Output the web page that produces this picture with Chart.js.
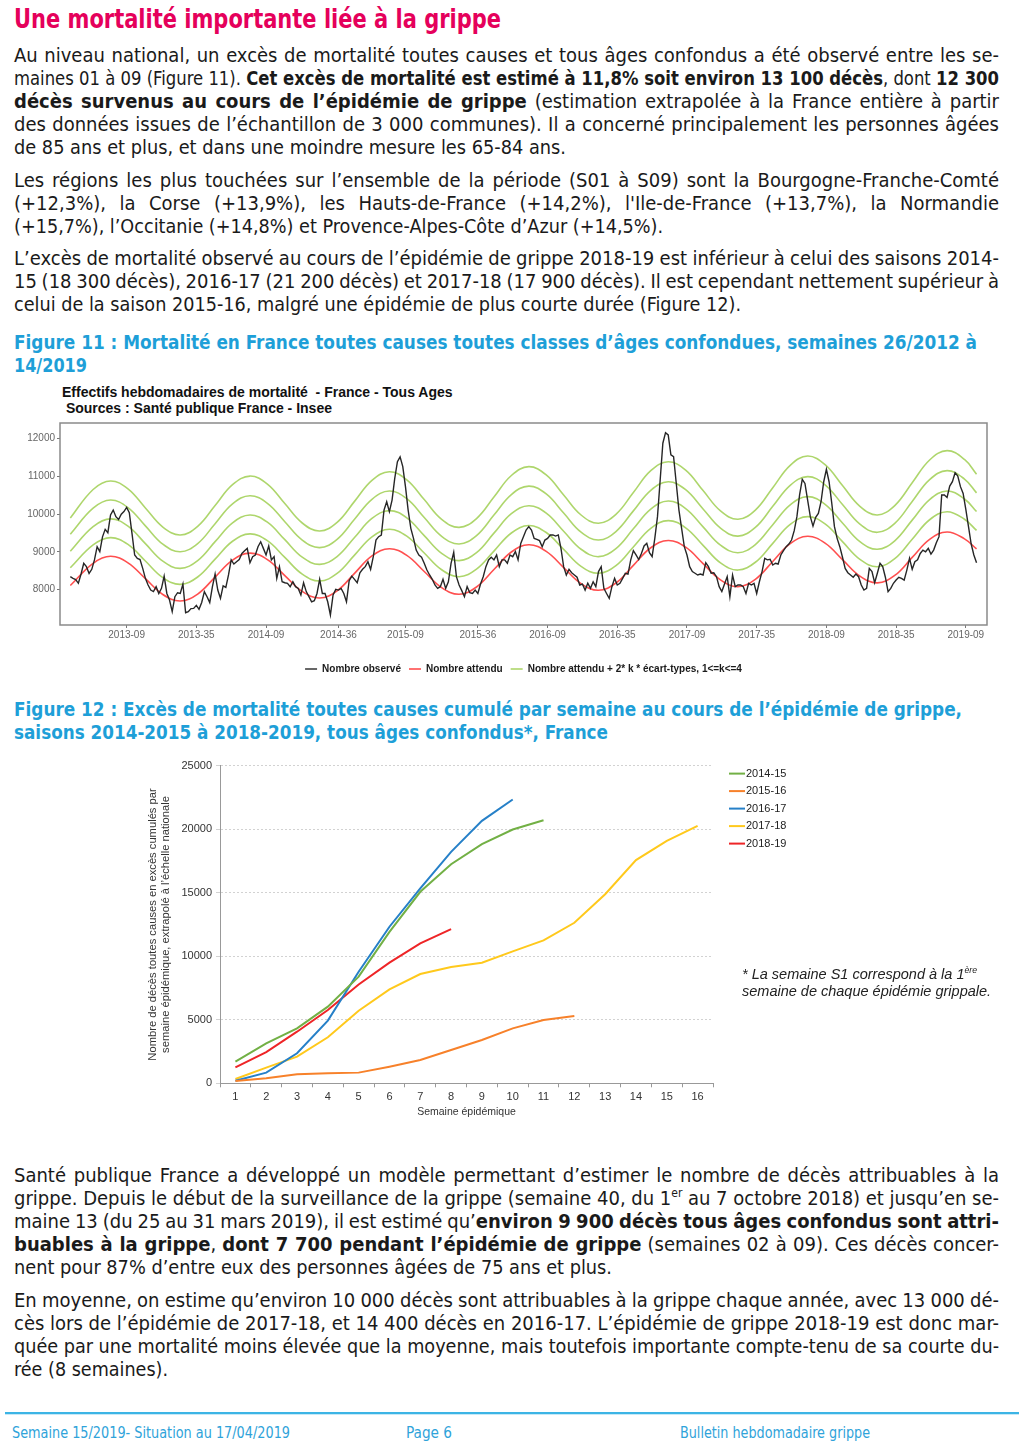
<!DOCTYPE html>
<html lang="fr">
<head>
<meta charset="utf-8">
<title>Bulletin hebdomadaire grippe - page 6</title>
<script src="https://cdn.jsdelivr.net/npm/chart.js@4.4.1/dist/chart.umd.min.js"></script>
<style>
  html, body { margin: 0; padding: 0; background: #fff; }
  body {
    width: 1024px; height: 1452px; position: relative; overflow: hidden;
    font-family: "Liberation Sans Narrow", "Arial Narrow", "DejaVu Sans Condensed", "Liberation Sans", sans-serif;
    color: #1a1a1a;
  }
  .blk { position: absolute; left: 14px; width: 985px; font-size: 20px; line-height: 23px; }
  .ln { white-space: nowrap; }
  .ln > span { display: inline-block; transform-origin: 0 50%; }
  .head { position: absolute; left: 14px; top: 6px; width: 700px; font-size: 26px; line-height: 26px; font-weight: bold; color: #e5005b; }
  .cap { color: #1e9fd8; font-weight: bold; }
  sup { font-size: 0.6em; line-height: 0; vertical-align: 0.65em; }
  .charttitle { position: absolute; left: 62px; top: 384px; font: bold 14px/16px "Liberation Sans", Arial, sans-serif; white-space: pre; color: #111; }
  .note { position: absolute; left: 742px; top: 966px; font: italic 14.5px/17px "Liberation Sans", Arial, sans-serif; color: #222; white-space: nowrap; }
  .rule { position: absolute; left: 5px; right: 5px; top: 1412px; height: 2px; background: #3cb4e5; box-shadow: 0 1px 0 #c6e9f7; }
  .foot { position: absolute; top: 1424px; font-size: 15px; line-height: 18px; color: #2fa3da; white-space: nowrap; }
  canvas { position: absolute; }
</style>
</head>
<body>

<div class="head"><div class="ln" data-w="487"><span>Une mortalité importante liée à la grippe</span></div></div>

<div class="blk" style="top:43.5px">
  <div class="ln j"><span>Au niveau national, un excès de mortalité toutes causes et tous âges confondus a été observé entre les se-</span></div>
  <div class="ln j"><span>maines 01 à 09 (Figure 11). <b>Cet excès de mortalité est estimé à 11,8% soit environ 13 100 décès</b>, dont <b>12 300</b></span></div>
  <div class="ln j"><span><b>décès survenus au cours de l’épidémie de grippe</b> (estimation extrapolée à la France entière à partir</span></div>
  <div class="ln j"><span>des données issues de l’échantillon de 3 000 communes). Il a concerné principalement les personnes âgées</span></div>
  <div class="ln" data-w="552"><span>de 85 ans et plus, et dans une moindre mesure les 65-84 ans.</span></div>
</div>

<div class="blk" style="top:168.5px">
  <div class="ln j"><span>Les régions les plus touchées sur l’ensemble de la période (S01 à S09) sont la Bourgogne-Franche-Comté</span></div>
  <div class="ln j"><span>(+12,3%), la Corse (+13,9%), les Hauts-de-France (+14,2%), l'Ile-de-France (+13,7%), la Normandie</span></div>
  <div class="ln" data-w="649"><span>(+15,7%), l’Occitanie (+14,8%) et Provence-Alpes-Côte d’Azur (+14,5%).</span></div>
</div>

<div class="blk" style="top:246.5px">
  <div class="ln j"><span>L’excès de mortalité observé au cours de l’épidémie de grippe 2018-19 est inférieur à celui des saisons 2014-</span></div>
  <div class="ln j"><span>15 (18 300 décès), 2016-17 (21 200 décès) et 2017-18 (17 900 décès). Il est cependant nettement supérieur à</span></div>
  <div class="ln" data-w="727"><span>celui de la saison 2015-16, malgré une épidémie de plus courte durée (Figure 12).</span></div>
</div>

<div class="blk cap" style="top:330.5px">
  <div class="ln" data-w="963"><span>Figure 11 : Mortalité en France toutes causes toutes classes d’âges confondues, semaines 26/2012 à</span></div>
  <div class="ln" data-w="73"><span>14/2019</span></div>
</div>

<div class="charttitle">Effectifs hebdomadaires de mortalité  - France - Tous Ages
 Sources : Santé publique France - Insee</div>
<canvas id="fig11" width="1024" height="270" style="left:0;top:415px"></canvas>

<div class="blk cap" style="top:697.5px">
  <div class="ln" data-w="948"><span>Figure 12 : Excès de mortalité toutes causes cumulé par semaine au cours de l’épidémie de grippe,</span></div>
  <div class="ln" data-w="594"><span>saisons 2014-2015 à 2018-2019, tous âges confondus*, France</span></div>
</div>

<canvas id="fig12" width="700" height="380" style="left:140px;top:755px"></canvas>
<div class="note">* La semaine S1 correspond à la 1<sup>ère</sup><br>semaine de chaque épidémie grippale.</div>

<div class="blk" style="top:1163.5px">
  <div class="ln j"><span>Santé publique France a développé un modèle permettant d’estimer le nombre de décès attribuables à la</span></div>
  <div class="ln j"><span>grippe. Depuis le début de la surveillance de la grippe (semaine 40, du 1<sup>er</sup> au 7 octobre 2018) et jusqu’en se-</span></div>
  <div class="ln j"><span>maine 13 (du 25 au 31 mars 2019), il est estimé qu’<b>environ 9 900 décès tous âges confondus sont attri-</b></span></div>
  <div class="ln j"><span><b>buables à la grippe</b>, <b>dont 7 700 pendant l’épidémie de grippe</b> (semaines 02 à 09). Ces décès concer-</span></div>
  <div class="ln" data-w="598"><span>nent pour 87% d’entre eux des personnes âgées de 75 ans et plus.</span></div>
</div>

<div class="blk" style="top:1288.5px">
  <div class="ln j"><span>En moyenne, on estime qu’environ 10 000 décès sont attribuables à la grippe chaque année, avec 13 000 dé-</span></div>
  <div class="ln j"><span>cès lors de l’épidémie de 2017-18, et 14 400 décès en 2016-17. L’épidémie de grippe 2018-19 est donc mar-</span></div>
  <div class="ln j"><span>quée par une mortalité moins élevée que la moyenne, mais toutefois importante compte-tenu de sa courte du-</span></div>
  <div class="ln" data-w="154"><span>rée (8 semaines).</span></div>
</div>

<div class="rule"></div>
<div class="foot" style="left:12px"><div class="ln" data-w="278"><span>Semaine 15/2019- Situation au 17/04/2019</span></div></div>
<div class="foot" style="left:406px"><div class="ln" data-w="46"><span>Page 6</span></div></div>
<div class="foot" style="left:680px"><div class="ln" data-w="190"><span>Bulletin hebdomadaire grippe</span></div></div>

<script>
// ---- Figure 11 : semaine 0 = 2013-S01, la série commence en 2012-S40 ----
const obsStartWeek = -13;
const observed = [
  8345, 8300, 8270, 8170, 8415, 8700, 8610, 8430, 8540, 8790, 9140, 9010, 9400,
  9600, 9510, 9980, 10110, 9935, 9860, 10000, 10070, 10180, 10040, 9490, 8920, 8830,
  8800, 8565, 8300, 8125, 7990, 7950, 8080, 7900, 8035, 8360, 7900, 7725, 7420,
  7815, 7920, 7900, 8150, 7390, 7420, 7500, 7505, 7585, 7480, 7660, 7950, 7815,
  7660, 8080, 8415, 7990, 7770, 8100, 8060, 8390, 8790, 8680, 8740, 8800, 8960,
  9030, 9095, 8715, 8875, 8920, 9140, 9270, 9095, 8920, 9160, 8790, 8875, 8300,
  8610, 8210, 8185, 8170, 8080, 8210, 8080, 8035, 7860, 8185, 7950, 7815, 7680,
  7710, 7900, 8275, 7900, 7900, 7680, 7330, 7860, 8010, 7990, 8035, 7900, 7680,
  8240, 8360, 8275, 8185, 8450, 8540, 8610, 8740, 8540, 8875, 9315, 9405, 9450,
  10110, 10330, 10070, 10375, 10950, 11390, 11520, 11260, 10730, 10110, 9625, 9360, 9050,
  8920, 8860, 8700, 8520, 8390, 8275, 8125, 8035, 8080, 8275, 8035, 8210, 8700,
  8990, 8345, 8125, 7975, 7815, 8080, 7920, 7900, 7990, 7900, 8150, 8345, 8610,
  8790, 8860, 8790, 8920, 8610, 8790, 8790, 8700, 8920, 8875, 9010, 8790, 9225,
  9405, 9580, 9670, 9580, 9360, 9335, 9300, 9140, 9315, 9360, 9450, 9450, 9420,
  9450, 9095, 8610, 8390, 8540, 8450, 8390, 8330, 8125, 8150, 7990, 8170, 8035,
  8210, 8080, 8480, 8610, 8035, 7900, 7770, 8080, 8300, 8125, 8170, 8300, 8435,
  8415, 8785, 9035, 8920, 8800, 8960, 9160, 9230, 8980, 8875, 9360, 9935, 10905,
  11880, 12160, 12100, 11570, 11525, 10820, 10110, 9625, 9140, 8920, 8610, 8480, 8435,
  8390, 8415, 8390, 8715, 8610, 8435, 8450, 8345, 8080, 7950, 8150, 8345, 7815,
  8390, 8080, 8125, 8125, 8080, 7900, 8170, 8125, 8170, 7900, 8210, 8480, 8830,
  8790, 8805, 8655, 8700, 8680, 8920, 9035, 9140, 9210, 9315, 9565, 9935, 10510,
  10925, 10815, 10375, 9935, 9685, 9915, 10020, 10330, 10860, 11190, 10860, 10290, 9670,
  9360, 9140, 8860, 8565, 8450, 8390, 8330, 8415, 8345, 8125, 7990, 8035, 8565,
  8480, 8185, 8435, 8700, 8610, 8330, 7950, 8035, 8170, 8255, 8330, 8300, 8255,
  8520, 8830, 8540, 8740, 8790, 8960, 9050, 9005, 9095, 8945, 9050, 9245, 9405,
  10510, 10510, 10445, 10745, 10860, 11100, 11010, 10730, 10550, 10130, 9670, 9210, 8920,
  8715
];

// semaines où les courbes lisses (attendu et seuils) ont été relevées
const smoothWeeks = [
  -13, -4.5, 2, 8.5, 15, 21.5, 28, 34.5, 41, 47.5, 54, 60.5, 67, 73.5, 80, 86.5, 93, 99.5,
  106, 112.5, 119, 125.5, 132, 138.5, 145, 151.5, 158, 164.5, 171, 177.5, 184, 190.5, 197, 203.5,
  210, 216.5, 223, 229.5, 236, 242.5, 249, 255.5, 262, 268.5, 275, 281.5, 288, 294.5, 301, 307.5,
  314, 320.5, 325
];
const expected = [
  8110, 8700, 8885, 8712, 8293, 7873, 7700, 7885, 8335, 8785, 8970, 8796, 8375, 7954, 7780, 7971, 8433, 8894,
  9085, 8909, 8482, 8056, 7880, 8071, 8535, 8999, 9190, 9014, 8587, 8161, 7985, 8178, 8645, 9112,
  9305, 9126, 8692, 8259, 8080, 8275, 8748, 9220, 9415, 9235, 8797, 8360, 8180, 8377, 8855, 9333,
  9530, 9347, 9080
];
const thresholdK1 = [
  8580, 9186, 9380, 9199, 8760, 8321, 8140, 8336, 8810, 9284, 9480, 9298, 8855, 8412, 8230, 8430, 8915, 9400,
  9600, 9417, 8972, 8528, 8345, 8543, 9023, 9502, 9700, 9515, 9067, 8620, 8435, 8639, 9133, 9626,
  9830, 9639, 9175, 8711, 8520, 8727, 9228, 9728, 9935, 9742, 9272, 8803, 8610, 8822, 9338, 9853,
  10065, 9866, 9570
];
const thresholdK2 = [
  9020, 9670, 9875, 9684, 9220, 8756, 8565, 8772, 9273, 9773, 9980, 9789, 9325, 8861, 8670, 8878, 9383, 9887,
  10095, 9902, 9432, 8963, 8770, 8982, 9498, 10013, 10225, 10028, 9550, 9072, 8875, 9090, 9613, 10135,
  10350, 10150, 9665, 9180, 8980, 9197, 9723, 10248, 10465, 10261, 9767, 9274, 9070, 9296, 9843, 10389,
  10615, 10403, 10070
];
const thresholdK3 = [
  9470, 10160, 10375, 10175, 9690, 9205, 9005, 9222, 9748, 10273, 10490, 10289, 9802, 9316, 9115, 9334, 9865, 10396,
  10615, 10410, 9912, 9415, 9210, 9434, 9978, 10521, 10745, 10536, 10030, 9524, 9315, 9541, 10088, 10634,
  10860, 10650, 10140, 9630, 9420, 9650, 10208, 10765, 10995, 10780, 10257, 9735, 9520, 9759, 10338, 10916,
  11155, 10932, 10565
];
const thresholdK4 = [
  9900, 10655, 10880, 10671, 10165, 9659, 9450, 9678, 10230, 10782, 11010, 10798, 10282, 9767, 9555, 9784, 10340, 10896,
  11125, 10910, 10387, 9865, 9650, 9885, 10455, 11025, 11260, 11041, 10510, 9979, 9760, 9998, 10575, 11152,
  11390, 11167, 10627, 10088, 9865, 10110, 10703, 11295, 11540, 11312, 10760, 10208, 9980, 10229, 10833, 11436,
  11685, 11451, 11060
];

const xTickWeeks = [8, 34, 60, 87, 112, 139, 165, 191, 217, 243, 269, 295, 321];
const xTickLabels = ['2013-09', '2013-35', '2014-09', '2014-36', '2015-09', '2015-36', '2016-09',
                     '2016-35', '2017-09', '2017-35', '2018-09', '2018-35', '2019-09'];
const yTicks11 = [8000, 9000, 10000, 11000, 12000];

// ---- Figure 12 : excès cumulé par semaine épidémique ----
const epiWeeks = ['1', '2', '3', '4', '5', '6', '7', '8', '9', '10', '11', '12', '13', '14', '15', '16'];
const season1415 = [1700, 3140, 4320, 6030, 8390, 11920, 15070, 17240, 18820, 19970, 20700];
const season1516 = [180, 390, 710, 790, 840, 1310, 1830, 2620, 3410, 4320, 4980, 5290];
const season1617 = [200, 840, 2360, 4930, 8780, 12320, 15330, 18210, 20650, 22330];
const season1718 = [340, 1230, 2100, 3620, 5710, 7390, 8600, 9150, 9490, 10380, 11240, 12630, 14880, 17560, 19080, 20260];
const season1819 = [1260, 2460, 4060, 5770, 7780, 9490, 11010, 12130];

const sans = '"Liberation Sans", Arial, sans-serif';

// mise en page des lignes de texte justifiées
function fitLines() {
    document.querySelectorAll('.ln').forEach(el => {
        const s = el.firstElementChild;
        const w = s.getBoundingClientRect().width;
        const target = el.dataset.w ? +el.dataset.w : el.clientWidth;
        if (el.classList.contains('j')) {
            const n = (s.textContent.match(/ /g) || []).length;
            const extra = (target - w) / n;
            if (extra >= -1) s.style.wordSpacing = extra + 'px';
            else s.style.transform = `scaleX(${target / w})`;
        } else if (el.dataset.w || w > target) {
            s.style.transform = `scaleX(${target / w})`;
        }
    });
}

// cadre gris autour de la zone de tracé (figure 11)
const framePlugin = {
    id: 'frame',
    afterDatasetsDraw(chart) {
        const { ctx, chartArea: a } = chart;
        ctx.save();
        ctx.strokeStyle = '#8a8a8a';
        ctx.lineWidth = 1.5;
        ctx.strokeRect(a.left, a.top, a.right - a.left, a.bottom - a.top);
        ctx.restore();
    }
};

// légende à droite, style Excel (figure 12)
const sideLegend = {
    id: 'sideLegend',
    afterDraw(chart) {
        const { ctx, chartArea: a } = chart;
        ctx.save();
        ctx.font = '11px ' + sans;
        ctx.textBaseline = 'middle';
        ctx.fillStyle = '#222';
        chart.data.datasets.forEach((ds, i) => {
            const y = a.top + 8 + i * 17.5;
            ctx.strokeStyle = ds.borderColor;
            ctx.lineWidth = 2;
            ctx.beginPath();
            ctx.moveTo(a.right + 16, y);
            ctx.lineTo(a.right + 32, y);
            ctx.stroke();
            ctx.fillText(ds.label, a.right + 33, y);
        });
        ctx.restore();
    }
};

function renderFig11() {
    const smooth = arr => smoothWeeks.map((w, i) => ({ x: w, y: arr[i] }));
    const green = '#aed66c';
    const thresholdLabel = 'Nombre attendu + 2* k * écart-types, 1<=k<=4';
    new Chart(document.getElementById('fig11'), {
        type: 'line',
        data: {
            datasets: [
                { label: 'Nombre observé', data: observed.map((v, i) => ({ x: obsStartWeek + i, y: v })),
                  borderColor: '#262626', borderWidth: 1.4, pointRadius: 0, tension: 0 },
                { label: 'Nombre attendu', data: smooth(expected),
                  borderColor: '#ff4f4f', borderWidth: 1.6, pointRadius: 0, tension: 0.4 },
                { label: thresholdLabel, data: smooth(thresholdK1), borderColor: green, borderWidth: 1.6, pointRadius: 0, tension: 0.4 },
                { label: thresholdLabel, data: smooth(thresholdK2), borderColor: green, borderWidth: 1.6, pointRadius: 0, tension: 0.4 },
                { label: thresholdLabel, data: smooth(thresholdK3), borderColor: green, borderWidth: 1.6, pointRadius: 0, tension: 0.4 },
                { label: thresholdLabel, data: smooth(thresholdK4), borderColor: green, borderWidth: 1.6, pointRadius: 0, tension: 0.4 }
            ]
        },
        options: {
            responsive: false,
            animation: false,
            layout: { padding: { top: 6, right: 37, bottom: 1, left: 0 } },
            scales: {
                x: {
                    type: 'linear', min: -16.85, max: 328.9,
                    afterFit: s => { s.height = 31; },
                    afterBuildTicks: s => { s.ticks = xTickWeeks.map(v => ({ value: v })); },
                    ticks: { callback: (v, i) => xTickLabels[i], autoSkip: false, maxRotation: 0,
                             font: { size: 10, family: sans }, color: '#666', padding: 1 },
                    grid: { drawOnChartArea: false, tickLength: 3, color: '#777' },
                    border: { display: false }
                },
                y: {
                    min: 7065, max: 12416,
                    afterFit: s => { s.width = 60; },
                    afterBuildTicks: s => { s.ticks = yTicks11.map(v => ({ value: v })); },
                    ticks: { callback: v => String(v), font: { size: 10, family: sans }, color: '#666', padding: 2 },
                    grid: { drawOnChartArea: false, tickLength: 3, color: '#777' },
                    border: { display: false }
                }
            },
            plugins: {
                legend: {
                    position: 'bottom', fullSize: false,
                    labels: {
                        usePointStyle: true, pointStyle: 'line', pointStyleWidth: 12, padding: 8,
                        font: { size: 10, weight: 'bold', family: sans }, color: '#1a1a1a',
                        filter: item => item.datasetIndex < 3
                    }
                },
                tooltip: { enabled: false }
            }
        },
        plugins: [framePlugin]
    });
}

function renderFig12() {
    const line = (label, data, color) => ({ label, data, borderColor: color, backgroundColor: color,
                                            borderWidth: 2, pointRadius: 0, tension: 0 });
    new Chart(document.getElementById('fig12'), {
        type: 'line',
        data: {
            labels: epiWeeks,
            datasets: [
                line('2014-15', season1415, '#72b045'),
                line('2015-16', season1516, '#f7812a'),
                line('2016-17', season1617, '#2680c8'),
                line('2017-18', season1718, '#ffc91c'),
                line('2018-19', season1819, '#ee2527')
            ]
        },
        options: {
            responsive: false,
            animation: false,
            layout: { padding: { top: 10, right: 127, bottom: 16.7, left: 0 } },
            scales: {
                x: {
                    offset: true,
                    afterFit: s => { s.height = 35; },
                    ticks: { font: { size: 11, family: sans }, color: '#333', padding: 3, maxRotation: 0 },
                    grid: { offset: true, drawOnChartArea: false, tickLength: 4, color: '#999' },
                    border: { color: '#999' },
                    title: { display: true, text: 'Semaine épidémique', font: { size: 10.5, family: sans },
                             color: '#333', padding: { top: 0, bottom: 0 } }
                },
                y: {
                    min: 0, max: 25000,
                    afterFit: s => { s.width = 80; },
                    ticks: { stepSize: 5000, callback: v => String(v), font: { size: 11, family: sans },
                             color: '#333', padding: 4 },
                    grid: { color: '#d2d2d2', tickLength: 4 },
                    border: { color: '#999', dash: [2, 2] },
                    title: {
                        display: true,
                        text: ['Nombre de décès toutes causes en excès cumulés par',
                               'semaine épidémique, extrapolé à l’échelle nationale'],
                        font: { size: 11.2, family: sans, lineHeight: 1.16 }, color: '#333',
                        padding: { top: 6.5, bottom: 0 }
                    }
                }
            },
            plugins: { legend: { display: false }, tooltip: { enabled: false } }
        },
        plugins: [sideLegend]
    });
}

document.fonts.ready.then(() => {
    fitLines();
    renderFig11();
    renderFig12();
});
</script>
</body>
</html>
